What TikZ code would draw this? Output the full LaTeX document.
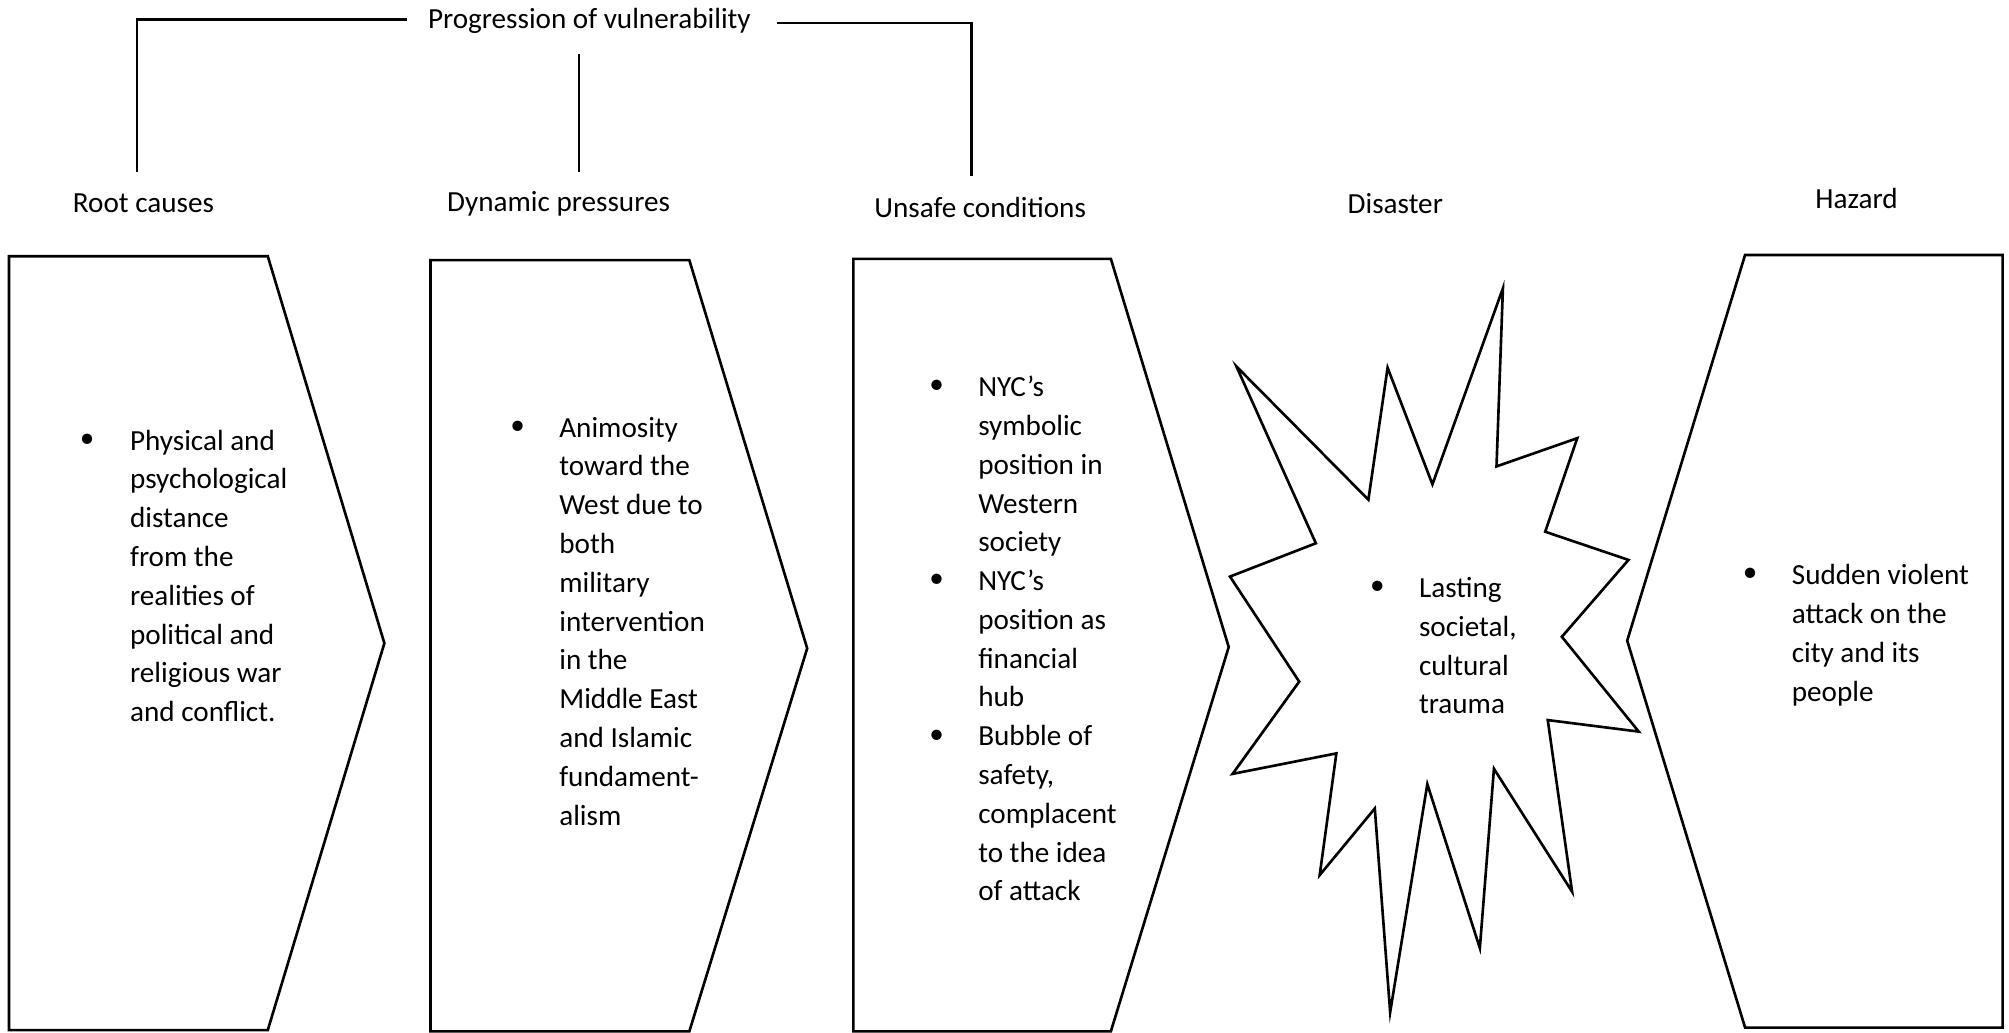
\documentclass[tikz,border=0pt]{standalone}
\usepackage{fontspec}
\setmainfont{Carlito}
\usetikzlibrary{positioning}
\tikzset{
  every picture/.style={line join=miter},
  stage/.style={draw=black, line width=0.75pt},
  stagelabel/.style={inner sep=0pt, font=\fontsize{8.3}{11}\selectfont},
  bodytext/.style={anchor=north west, align=left, inner sep=0pt,
    font=\fontsize{8.3}{11.04}\selectfont},
  bulletdot/.style={inner sep=0pt, font=\fontsize{8.3}{11}\selectfont},
}

\begin{document}
\begin{tikzpicture}[x=0.012813cm, y=-0.012813cm]
\useasboundingbox (0,0) rectangle (1568,806);
% Stage labels
\node[stagelabel] (prog) at (460,16) {Progression of vulnerability};
\node[stagelabel] (root) at (112,159) {Root causes};
\node[stagelabel] (dyn) at (436,159) {Dynamic pressures};
\node[stagelabel] (unsafe) at (765,162) {Unsafe conditions};
\node[stagelabel] (disaster) at (1089,159) {Disaster};
\node[stagelabel] (hazard) at (1449,155) {Hazard};
% Progression of vulnerability bracket
\coordinate (rootTop) at (107,134);
\coordinate (dynTop) at (452,134);
\coordinate (unsafeTop) at (758,137);
\draw[stage] (prog.west) ++(-16,-1) -| (rootTop);
\draw[stage] (prog.east) ++(20,2) -| (unsafeTop);
\draw[stage] (dynTop) -- ++(0,-92);
% Chevron shapes
\draw[stage] (7,200) -- (209,200) -- (300,502) -- (209,804) -- (7,804) -- cycle;
\draw[stage] (336,203) -- (538,203) -- (630,506) -- (538,805) -- (336,805) -- cycle;
\draw[stage] (666,202) -- (867,202) -- (959,505) -- (867,805) -- (666,805) -- cycle;
\draw[stage] (1563,199) -- (1362,199) -- (1270,500) -- (1362,802) -- (1563,802) -- cycle;
% Disaster burst
\draw[stage] (1173,225) -- (1168,364) -- (1231,342) -- (1206,415) -- (1271,437)
  -- (1219,497) -- (1279,571) -- (1208,562) -- (1227,696) -- (1166,600)
  -- (1155,740) -- (1114,612) -- (1085,790) -- (1073,631) -- (1030,683)
  -- (1043,588) -- (962,604) -- (1014,532) -- (960,450) -- (1027,424)
  -- (965,286) -- (1068,390) -- (1083,287) -- (1118,378) -- cycle;
% Bullet texts
\node[bulletdot] (rootDot) at (68,344) {•};
\node[bodytext] (rootText) at (101,335) {Physical and\\psychological\\distance\\from the\\realities of\\political and\\religious war\\and conflict.};
\node[bulletdot] (dynDot) at (404,334) {•};
\node[bodytext] (dynText) at (436,325) {Animosity\\toward the\\West due to\\both\\military\\intervention\\in the\\Middle East\\and Islamic\\fundament-\\alism};
\node[bulletdot] (unsafeDotA) at (731,302) {•};
\node[bulletdot] (unsafeDotB) at (731,453) {•};
\node[bulletdot] (unsafeDotC) at (731,575) {•};
\node[bodytext] (unsafeText) at (763,293) {NYC’s\\symbolic\\position in\\Western\\society\\NYC’s\\position as\\financial\\hub\\Bubble of\\safety,\\complacent\\to the idea\\of attack};
\node[bulletdot] (disasterDot) at (1075,459) {•};
\node[bodytext] (disasterText) at (1107,450) {Lasting\\societal,\\cultural\\trauma};
\node[bulletdot] (hazardDot) at (1366,449) {•};
\node[bodytext] (hazardText) at (1398,440) {Sudden violent\\attack on the\\city and its\\people};
\end{tikzpicture}
\end{document}
